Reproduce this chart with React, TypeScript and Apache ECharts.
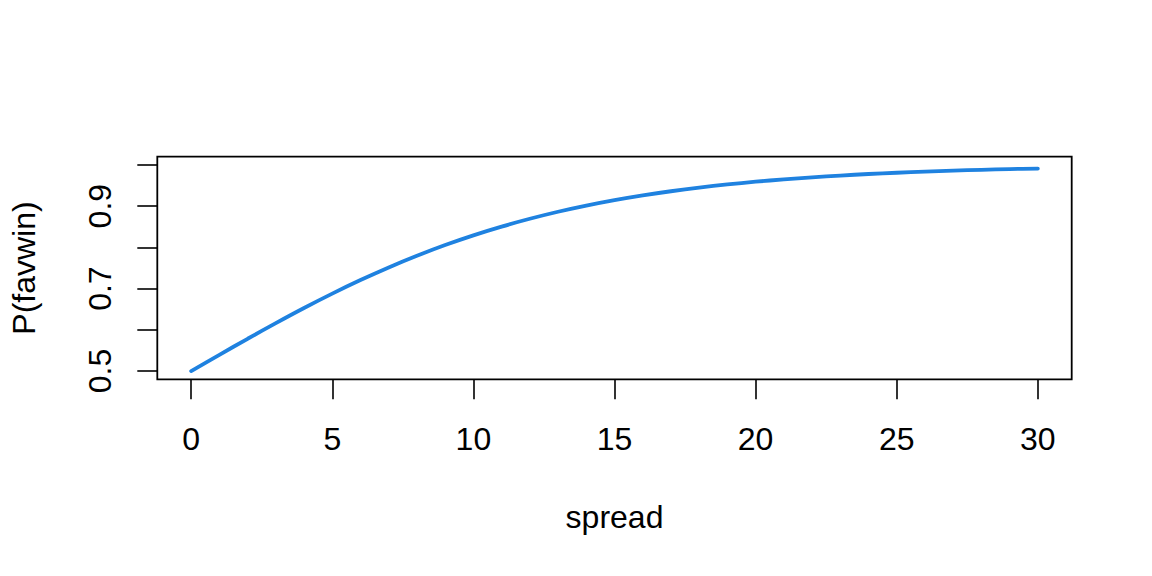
import React, { useEffect, useRef } from "react";
import * as echarts from "echarts";

const spread = [0, 1, 2, 3, 4, 5, 6, 7, 8, 9, 10, 11, 12, 13, 14, 15, 16, 17, 18, 19, 20, 21, 22, 23, 24, 25, 26, 27, 28, 29, 30];
const pFavwin = [
  0.5, 0.5394, 0.5783, 0.6163, 0.653, 0.6879, 0.7207, 0.7514, 0.7797, 0.8057,
  0.8292, 0.8504, 0.8694, 0.8864, 0.9013, 0.9145, 0.9261, 0.9362, 0.945, 0.9527,
  0.9593, 0.9651, 0.97, 0.9743, 0.978, 0.9811, 0.9838, 0.9862, 0.9882, 0.9899, 0.9913,
];
const xTicks = [0, 5, 10, 15, 20, 25, 30];
const yTicks = [0.5, 0.6, 0.7, 0.8, 0.9, 1.0];
const yLabels = [0.5, 0.7, 0.9];

const FONT = "'Liberation Sans', Arial, Helvetica, sans-serif";

export default function App() {
  const ref = useRef<HTMLDivElement>(null);
  useEffect(() => {
    if (!ref.current) return;
    const chart = echarts.init(ref.current, null, { renderer: "svg" });
    chart.setOption({
      animation: false,
      backgroundColor: "#ffffff",
      textStyle: { fontFamily: FONT },
      grid: {
        left: 157.3,
        top: 156.7,
        width: 914.4,
        height: 222.6,
        show: true,
        borderColor: "#000000",
        borderWidth: 1.8,
        backgroundColor: "transparent",
        containLabel: false,
      },
      xAxis: {
        type: "value",
        min: -1.2,
        max: 31.2,
        name: "spread",
        nameLocation: "middle",
        nameGap: 122,
        nameTextStyle: { fontFamily: FONT, fontSize: 32, color: "#000" },
        axisLine: { show: false, onZero: false },
        axisTick: {
          show: true,
          inside: false,
          length: 20,
          customValues: xTicks,
          lineStyle: { color: "#000", width: 1.6 },
        },
        axisLabel: {
          show: true,
          customValues: xTicks,
          margin: 44,
          fontFamily: FONT,
          fontSize: 32,
          color: "#000",
        },
        splitLine: { show: false },
      },
      yAxis: {
        type: "value",
        min: 0.48,
        max: 1.02,
        name: "P(favwin)",
        nameLocation: "middle",
        nameGap: 117,
        nameRotate: 90,
        nameTextStyle: { fontFamily: FONT, fontSize: 32, color: "#000" },
        axisLine: { show: false, onZero: false },
        axisTick: {
          show: true,
          inside: false,
          length: 20,
          customValues: yTicks,
          lineStyle: { color: "#000", width: 1.6 },
        },
        axisLabel: {
          show: true,
          customValues: yLabels,
          rotate: 90,
          margin: 41,
          fontFamily: FONT,
          fontSize: 32,
          color: "#000",
          formatter: (v: number) => v.toFixed(1),
        },
        splitLine: { show: false },
      },
      series: [
        {
          type: "line",
          data: spread.map((s, i) => [s, pFavwin[i]]),
          showSymbol: false,
          symbol: "none",
          smooth: 0.3,
          lineStyle: { color: "#1F82E0", width: 3.8, cap: "round" },
          itemStyle: { color: "#1F82E0" },
        },
      ],
    });
    return () => chart.dispose();
  }, []);
  return (
    <div
      ref={ref}
      style={{ position: "fixed", left: 0, top: 0, width: 1152, height: 576, background: "#fff" }}
    />
  );
}
